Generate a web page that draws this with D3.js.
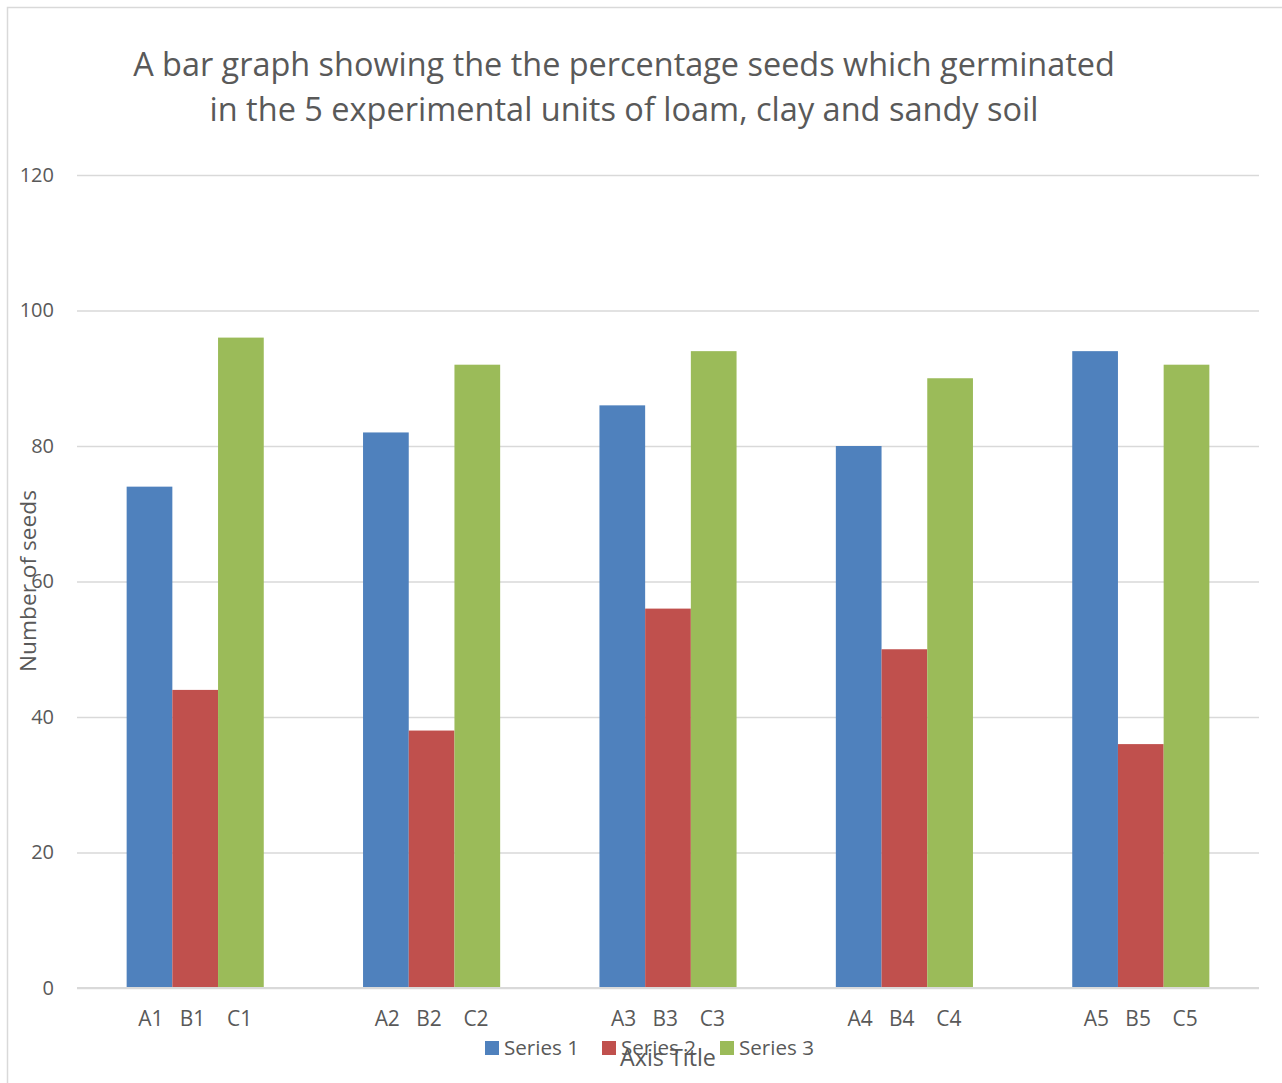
<!DOCTYPE html>
<html>
<head>
<meta charset="utf-8">
<script src="https://cdn.jsdelivr.net/npm/d3@7"></script>
<style>
  html, body { margin: 0; padding: 0; background: #fff; }
  svg text { font-family: "Open Sans", "Noto Sans", sans-serif; fill: #595959; }
</style>
</head>
<body>
<svg id="chart" width="1282" height="1083"></svg>
<script>
// Chart data
const categories = ["A1   B1    C1", "A2   B2    C2", "A3   B3    C3", "A4   B4    C4", "A5   B5    C5"];
const seriesNames = ["Series 1", "Series 2", "Series 3"];
const series1 = [74, 82, 86, 80, 94];
const series2 = [44, 38, 56, 50, 36];
const series3 = [96, 92, 94, 90, 92];
const yTicks = [0, 20, 40, 60, 80, 100, 120];
const titleLines = [
  "A bar graph showing the the percentage seeds which germinated",
  "in the 5 experimental units of loam, clay and sandy soil"
];
const yAxisTitle = "Number of seeds";
const xAxisTitle = "Axis Title";

const colors = ["#4f81bd", "#c0504d", "#9bbb59"];
const allSeries = [series1, series2, series3];

const svg = d3.select("#chart");

// Outer chart frame
svg.append("rect")
  .attr("x", 7.5).attr("y", 7.5)
  .attr("width", 1290).attr("height", 1090)
  .attr("fill", "none").attr("stroke", "#d9d9d9").attr("stroke-width", 1.5);

// Fit a text element to a target width by adjusting its font size
function fitWidth(sel, target) {
  const node = sel.node();
  const fs = parseFloat(sel.attr("font-size"));
  const w = node.getComputedTextLength();
  sel.attr("font-size", (fs * target / w).toFixed(2));
}

const plot = { left: 77, right: 1259, top: 175, bottom: 988 };

const x0 = d3.scaleBand()
  .domain(categories)
  .range([plot.left, plot.right])
  .paddingInner(0.42)
  .paddingOuter(0.21);

const x1 = d3.scaleBand()
  .domain(d3.range(seriesNames.length))
  .range([0, x0.bandwidth()]);

const y = d3.scaleLinear().domain([0, 120]).range([plot.bottom, plot.top]);

// Gridlines and y tick labels
const yAxis = d3.axisLeft(y).tickValues(yTicks).tickSize(-(plot.right - plot.left)).tickPadding(23);
const gy = svg.append("g").attr("transform", `translate(${plot.left},0)`).call(yAxis);
gy.select(".domain").remove();
gy.selectAll(".tick line").attr("stroke", "#d9d9d9").attr("stroke-width", 1.3);
gy.selectAll(".tick text").attr("font-size", 20).attr("fill", "#595959")
  .attr("font-family", "'Open Sans', sans-serif");

// Bars
const groups = svg.append("g").selectAll("g")
  .data(categories)
  .join("g")
  .attr("transform", d => `translate(${x0(d)},0)`);

groups.selectAll("rect")
  .data((d, i) => allSeries.map((s, k) => ({ k, v: s[i] })))
  .join("rect")
  .attr("x", d => x1(d.k))
  .attr("y", d => y(d.v))
  .attr("width", x1.bandwidth())
  .attr("height", d => y(0) - y(d.v))
  .attr("fill", d => colors[d.k]);

// Category axis line
svg.append("line")
  .attr("x1", plot.left).attr("x2", plot.right)
  .attr("y1", y(0)).attr("y2", y(0))
  .attr("stroke", "#d9d9d9").attr("stroke-width", 2);

// Category labels
const xAxis = d3.axisBottom(x0).tickSize(0).tickPadding(23);
const gx = svg.append("g").attr("transform", `translate(0,${plot.bottom})`).call(xAxis);
gx.select(".domain").remove();
gx.selectAll(".tick text")
  .attr("font-size", 19).attr("fill", "#595959")
  .attr("font-family", "'Open Sans', sans-serif")
  .style("white-space", "pre");
gx.selectAll(".tick text").each(function () { fitWidth(d3.select(this), 114); });

// Title
const titleY = [76, 121];
const titleW = [982, 829];
titleLines.forEach((t, i) => {
  const tx = svg.append("text")
    .attr("x", 624).attr("y", titleY[i])
    .attr("text-anchor", "middle")
    .attr("font-size", 32)
    .text(t);
  fitWidth(tx, titleW[i]);
});

// Y axis title
const yt = svg.append("text")
  .attr("transform", `translate(36,581) rotate(-90)`)
  .attr("text-anchor", "middle")
  .attr("font-size", 21)
  .text(yAxisTitle);
fitWidth(yt, 182);

// Legend
const legendX = [485, 602, 720];
const legend = svg.append("g");
seriesNames.forEach((name, i) => {
  legend.append("rect")
    .attr("x", legendX[i]).attr("y", 1041)
    .attr("width", 14).attr("height", 14)
    .attr("fill", colors[i]);
  const lt = legend.append("text")
    .attr("x", legendX[i] + 19).attr("y", 1055)
    .attr("font-size", 19)
    .text(name);
  fitWidth(lt, 75);
});

// X axis title
const xt = svg.append("text")
  .attr("x", 668).attr("y", 1066)
  .attr("text-anchor", "middle")
  .attr("font-size", 21)
  .text(xAxisTitle);
fitWidth(xt, 96);
</script>
</body>
</html>
